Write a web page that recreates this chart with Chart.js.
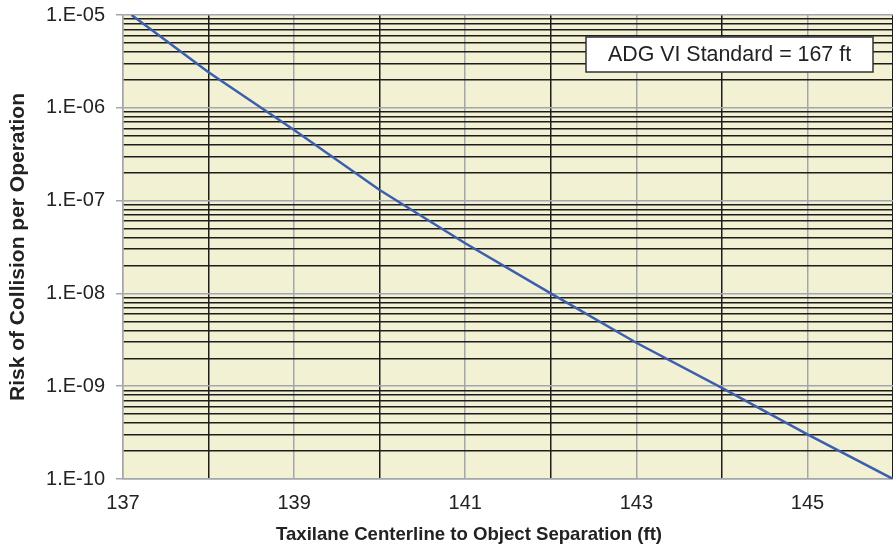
<!DOCTYPE html>
<html>
<head>
<meta charset="utf-8">
<script src="https://cdn.jsdelivr.net/npm/chart.js@4.4.0/dist/chart.umd.min.js"></script>
<style>
  html, body { margin: 0; padding: 0; background: #ffffff; }
  #wrap { width: 893px; height: 552px; position: relative; }
</style>
</head>
<body>
<div id="wrap"><canvas id="c" width="893" height="552"></canvas></div>
<script>
// ---- Data ----
const separationFt = [137.1, 138, 139, 140, 141, 142, 143, 144, 145, 146];
const collisionRisk = [1.0e-5, 2.41e-6, 5.77e-7, 1.30e-7, 3.47e-8, 1.0e-8, 2.94e-9, 9.6e-10, 3.03e-10, 1.0e-10];
const xTickLabels = [137, 139, 141, 143, 145];
const xGridValues = [137, 138, 139, 140, 141, 142, 143, 144, 145, 146];
const yDecades = [1e-10, 1e-9, 1e-8, 1e-7, 1e-6, 1e-5];
const yTickLabels = ['1.E-10', '1.E-09', '1.E-08', '1.E-07', '1.E-06', '1.E-05'];
const xTitle = 'Taxilane Centerline to Object Separation (ft)';
const yTitle = 'Risk of Collision per Operation';
const noteText = 'ADG VI Standard = 167 ft';

const FONT = '"Liberation Sans", Arial, Helvetica, sans-serif';
const GRAY = '#a3a7ab';
const BLACK = '#1c1c1c';
const PLOT_BG = '#f3f1d4';

function isDecade(v) {
  return yDecades.some(d => Math.abs(v - d) / d < 1e-6);
}
function decadeLabel(v) {
  for (let i = 0; i < yDecades.length; i++) {
    if (Math.abs(v - yDecades[i]) / yDecades[i] < 1e-6) return yTickLabels[i];
  }
  return '';
}
function zeroPadding(scale) {
  scale.paddingTop = 0;
  scale.paddingBottom = 0;
  scale.paddingLeft = 0;
  scale.paddingRight = 0;
}

const plotBg = {
  id: 'plotBg',
  beforeDraw(chart) {
    const {ctx, chartArea: a} = chart;
    ctx.save();
    ctx.fillStyle = PLOT_BG;
    ctx.fillRect(a.left, a.top, a.right - a.left, a.bottom - a.top);
    ctx.restore();
  }
};

const extras = {
  id: 'extras',
  afterDraw(chart) {
    const {ctx, chartArea: a} = chart;
    ctx.save();
    // note box
    const bw = 287, bh = 35;
    const bx = a.right - 20 - bw, by = a.top + 22;
    ctx.fillStyle = '#ffffff';
    ctx.fillRect(bx, by, bw, bh);
    ctx.strokeStyle = '#333333';
    ctx.lineWidth = 1.5;
    ctx.strokeRect(bx, by, bw, bh);
    ctx.fillStyle = '#222222';
    ctx.font = '21.4px ' + FONT;
    ctx.textAlign = 'center';
    ctx.textBaseline = 'middle';
    ctx.fillText(noteText, bx + bw / 2, by + bh / 2 + 1);
    // x axis title
    ctx.font = 'bold 18.6px ' + FONT;
    ctx.fillStyle = '#222222';
    ctx.fillText(xTitle, 469, 535);
    ctx.restore();
  }
};

new Chart(document.getElementById('c'), {
  type: 'line',
  data: {
    datasets: [{
      data: separationFt.map((x, i) => ({x: x, y: collisionRisk[i]})),
      borderColor: '#3c5eae',
      borderWidth: 2.5,
      pointRadius: 0,
      tension: 0,
      fill: false
    }]
  },
  options: {
    responsive: false,
    animation: false,
    devicePixelRatio: 1,
    layout: { padding: { top: 15, right: 0, bottom: 0, left: 0 } },
    plugins: { legend: { display: false }, tooltip: { enabled: false } },
    scales: {
      x: {
        type: 'linear',
        min: 137,
        max: 146,
        afterBuildTicks(scale) {
          scale.ticks = xGridValues.map(v => ({value: v}));
        },
        afterFit(scale) { scale.height = 73; zeroPadding(scale); },
        ticks: {
          autoSkip: false,
          maxRotation: 0,
          padding: 12,
          color: '#222222',
          font: { family: FONT, size: 20 },
          callback(v) { return xTickLabels.includes(v) ? String(v) : ''; }
        },
        grid: {
          drawTicks: false,
          lineWidth: 1.5,
          color(ctx) {
            const v = ctx.tick ? ctx.tick.value : 0;
            return (v % 2 === 1) ? GRAY : BLACK;
          }
        },
        border: { display: true, color: GRAY, width: 1.5 },
        title: { display: false }
      },
      y: {
        type: 'logarithmic',
        min: 1e-10,
        max: 1e-5,
        afterBuildTicks(scale) {
          const t = [];
          for (let e = -10; e <= -6; e++) {
            for (let m = 1; m <= 9; m++) t.push({value: m * Math.pow(10, e)});
          }
          t.push({value: 1e-5});
          scale.ticks = t;
        },
        afterFit(scale) { scale.width = 123; zeroPadding(scale); },
        ticks: {
          autoSkip: false,
          padding: 11,
          color: '#222222',
          font: { family: FONT, size: 20 },
          callback(v) { return decadeLabel(v); }
        },
        grid: {
          drawTicks: true,
          tickLength: 7,
          lineWidth: 1.5,
          color(ctx) {
            const v = ctx.tick ? ctx.tick.value : 1;
            return isDecade(v) ? GRAY : BLACK;
          },
          tickColor(ctx) {
            const v = ctx.tick ? ctx.tick.value : 1;
            return isDecade(v) ? GRAY : 'rgba(0,0,0,0)';
          }
        },
        border: { display: true, color: GRAY, width: 1.5 },
        title: {
          display: true,
          text: yTitle,
          color: '#222222',
          font: { family: FONT, size: 21, weight: 'bold' },
          padding: { top: 6, bottom: 0 }
        }
      }
    }
  },
  plugins: [plotBg, extras]
});
</script>
</body>
</html>
